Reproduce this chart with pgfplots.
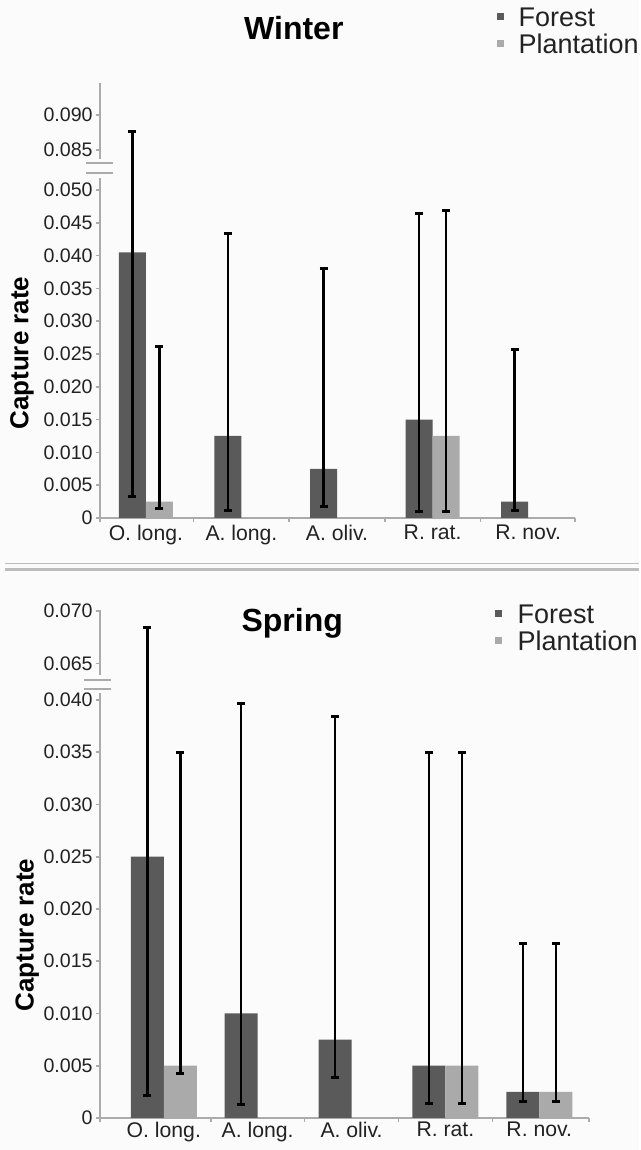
\documentclass[border=0pt]{standalone}
\usepackage{pgfplots}
\pgfplotsset{compat=1.18}
\usepackage{pgfplotstable}
\usepackage{fontspec}
\setmainfont{Liberation Sans}

\definecolor{forestc}{HTML}{5A5A5A}
\definecolor{plantc}{HTML}{AAAAAA}
\definecolor{axisgray}{HTML}{ABABAB}
\definecolor{paper}{HTML}{FBFBFB}
\definecolor{ink}{HTML}{222222}

% columns: category, capture rate, lower and upper end of the error bar
\pgfplotstableread{
x v lo hi
0 0.0405 0.0032 0.0876
1 0.0125 0.0011 0.0433
2 0.0075 0.0018 0.0381
3 0.0150 0.0010 0.0464
4 0.0025 0.0012 0.0257
}\winterforest
\pgfplotstableread{
x v lo hi
0 0.0025 0.0015 0.0262
3 0.0125 0.0010 0.0468
}\winterplant
\pgfplotstableread{
x v lo hi
0 0.0250 0.0022 0.0684
1 0.0100 0.0013 0.0397
2 0.0075 0.0039 0.0384
3 0.0050 0.0014 0.0350
4 0.0025 0.0016 0.0167
}\springforest
\pgfplotstableread{
x v lo hi
0 0.0050 0.0043 0.0350
3 0.0050 0.0014 0.0350
4 0.0025 0.0016 0.0167
}\springplant

\pgfplotsset{
  capt/.style={
    scale only axis, ybar=0pt, ymin=0, clip mode=individual,
    scaled y ticks=false,
    axis x line*=bottom, axis y line*=left,
    y axis line style={draw=none},
    x axis line style={draw=axisgray, line width=1pt},
    tick style={draw=axisgray, line width=0.8pt},
    major tick length=2pt, tick align=outside,
    xticklabels={},
    extra x ticks={0,1,2,3,4},
    extra x tick labels={O. long., A. long., A. oliv., R. rat., R. nov.},
    extra x tick style={major tick length=0pt},
    xticklabel style={font=\fontsize{10.6}{11}\selectfont, text=ink},
    yticklabel style={font=\fontsize{9.8}{10}\selectfont, text=ink, inner xsep=1.5pt},
    ylabel={Capture rate},
    title style={anchor=base, yshift=-6pt, font=\bfseries\fontsize{16}{16}\selectfont},
    legend style={draw=none, fill=none, anchor=north west, inner sep=0pt,
      font=\fontsize{13.5}{13.5}\selectfont, text=ink,
      nodes={inner sep=0pt, text height=11.5pt, text depth=2pt}},
    legend cell align=left,
  },
  sq/.style={legend image code/.code={\fill[##1] (0pt,-1.75pt) rectangle (3.5pt,1.75pt);}},
  eb/.style={error bars/.cd, y dir=both, y explicit,
    error bar style={draw=black, line width=1.2pt},
    error mark options={rotate=90, mark size=2pt, line width=1.5pt, draw=black}},
}

\begin{document}
\begin{tikzpicture}[
  declare function={
    brkW(\v)=ifthenelse(\v>0.07, 0.0561+(\v-0.085)*1.06, \v);
    brkS(\v)=ifthenelse(\v>0.05, \v-0.0215, \v);
  }]
\fill[paper] (0,0) rectangle (319.5pt,575pt);

% Winter
\begin{axis}[capt, at={(50pt,316pt)}, anchor=south west,
  width=237.5pt, height=217.5pt,
  xmin=-0.48, xmax=4.49, ymax=0.06631,
  bar width=13.5pt,
  xtick={0.5,1.5,2.5,3.5,4.49},
  ytick={0,0.005,0.010,0.015,0.020,0.025,0.030,0.035,0.040,0.045,0.050,0.0561,0.0614},
  yticklabels={0,0.005,0.010,0.015,0.020,0.025,0.030,0.035,0.040,0.045,0.050,0.085,0.090},
  ylabel style={at={(-0.164,0.379)}, anchor=center, font=\bfseries\fontsize{13}{13}\selectfont},
  title={Winter}, title style={at={(0.408,1.101)}},
  legend style={at={(0.834,1.184)}, column sep=7.5pt},
]
\addplot[fill=forestc, draw=none, sq, eb] table[x=x, y=v,
  y error plus expr={brkW(\thisrow{hi})-\thisrow{v}},
  y error minus expr={\thisrow{v}-\thisrow{lo}}] {\winterforest};
\addlegendentry{Forest}
\addplot[fill=plantc, draw=none, sq, eb] table[x=x, y=v,
  y error plus expr={brkW(\thisrow{hi})-\thisrow{v}},
  y error minus expr={\thisrow{v}-\thisrow{lo}}] {\winterplant};
\addlegendentry{Plantation}
\draw[axisgray, line width=1pt] (axis cs:-0.48,-0.0006) -- (axis cs:-0.48,0.0518);
\draw[axisgray, line width=1pt] (axis cs:-0.48,0.0547) -- (axis cs:-0.48,0.06631);
\draw[axisgray, line width=1pt] (axis cs:-0.628,0.05412) -- (axis cs:-0.346,0.05412);
\draw[axisgray, line width=1pt] (axis cs:-0.628,0.05259) -- (axis cs:-0.346,0.05259);
\end{axis}

\draw[axisgray!80, line width=0.5pt] (2.5pt,293.25pt) -- (319.5pt,293.25pt);
\draw[axisgray!80, line width=1.5pt] (2.5pt,290.25pt) -- (319.5pt,290.25pt);

% Spring
\begin{axis}[capt, at={(50pt,16pt)}, anchor=south west,
  width=244.5pt, height=254pt,
  xmin=-0.68, xmax=4.53, ymax=0.04861,
  bar width=16.5pt,
  xtick={0.5,1.5,2.5,3.5,4.53},
  xticklabel style={inner ysep=1.8pt},
  ytick={0,0.005,0.010,0.015,0.020,0.025,0.030,0.035,0.040,0.0435,0.0485},
  yticklabels={0,0.005,0.010,0.015,0.020,0.025,0.030,0.035,0.040,0.065,0.070},
  ylabel style={at={(-0.149,0.360)}, anchor=center, font=\bfseries\fontsize{13}{13}\selectfont},
  title={Spring}, title style={at={(0.393,0.957)}},
  legend style={at={(0.806,1.0197)}, column sep=8pt},
]
\addplot[fill=forestc, draw=none, sq, eb] table[x=x, y=v,
  y error plus expr={brkS(\thisrow{hi})-\thisrow{v}},
  y error minus expr={\thisrow{v}-\thisrow{lo}}] {\springforest};
\addlegendentry{Forest}
\addplot[fill=plantc, draw=none, sq, eb] table[x=x, y=v,
  y error plus expr={brkS(\thisrow{hi})-\thisrow{v}},
  y error minus expr={\thisrow{v}-\thisrow{lo}}] {\springplant};
\addlegendentry{Plantation}
\draw[axisgray, line width=1pt] (axis cs:-0.68,-0.0004) -- (axis cs:-0.68,0.04067);
\draw[axisgray, line width=1pt] (axis cs:-0.68,0.04239) -- (axis cs:-0.68,0.04861);
\draw[axisgray, line width=1pt] (axis cs:-0.852,0.04191) -- (axis cs:-0.564,0.04191);
\draw[axisgray, line width=1pt] (axis cs:-0.852,0.04105) -- (axis cs:-0.564,0.04105);
\end{axis}
\end{tikzpicture}
\end{document}
